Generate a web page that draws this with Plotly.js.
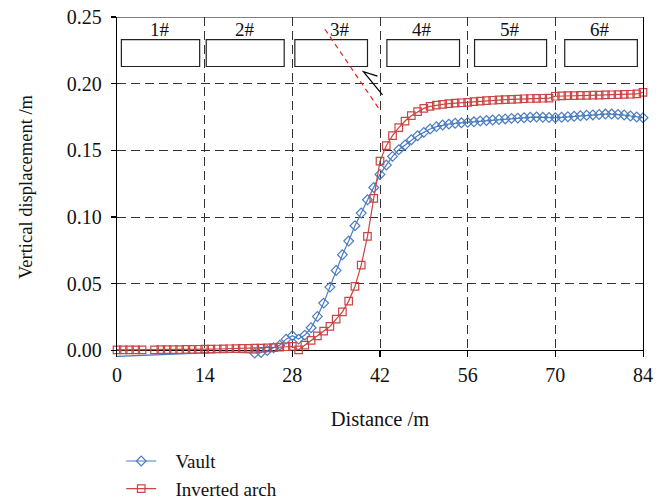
<!DOCTYPE html>
<html>
<head>
<meta charset="utf-8">
<script src="https://cdn.plot.ly/plotly-3.0.1.min.js"></script>
<style>html,body{margin:0;padding:0;background:#fff;}#chart{width:668px;height:503px;}</style>
</head>
<body>
<div id="chart"></div>
<script>
// Distance (m) and vertical displacement (m)
const vaultX = [0,1,2,3,4,5,6,7,8,9,10,11,12,13,14,15,16,17,18,19,20,21,22,23,24,25,26,27,28,29,30,31,32,33,34,35,36,37,38,39,40,41,42,43,44,45,46,47,48,49,50,51,52,53,54,55,56,57,58,59,60,61,62,63,64,65,66,67,68,69,70,71,72,73,74,75,76,77,78,79,80,81,82,83,84];
const vaultY = [-0.0045,-0.0043,-0.004,-0.0037,-0.0035,-0.0032,-0.003,-0.0028,-0.0026,-0.0024,-0.0022,-0.002,-0.0018,-0.0016,-0.0014,-0.0013,-0.0012,-0.0012,-0.0012,-0.0013,-0.0015,-0.0018,-0.002,-0.0015,0.0,0.002,0.004,0.0085,0.011,0.0085,0.0115,0.017,0.0255,0.0355,0.0475,0.060,0.0718,0.082,0.0935,0.103,0.113,0.1222,0.132,0.139,0.1455,0.1505,0.154,0.158,0.161,0.1635,0.166,0.1678,0.169,0.1697,0.1703,0.1707,0.171,0.1714,0.172,0.1724,0.1728,0.1732,0.1736,0.174,0.1742,0.1745,0.1748,0.175,0.1748,0.1746,0.1745,0.1748,0.1752,0.1756,0.176,0.1763,0.1766,0.1769,0.1772,0.1772,0.177,0.1765,0.1758,0.175,0.1745];

const archX = [0,1,2,3,4,6,7,8,9,10,11,12,13,14,15,16,17,18,19,20,21,22,23,24,25,26,27,28,29,30,31,32,33,34,35,36,37,38,39,40,41,42,43,44,45,46,47,48,49,50,51,52,53,54,55,56,57,58,59,60,61,62,63,64,65,66,67,68,69,70,71,72,73,74,75,76,77,78,79,80,81,82,83,84];
const archY = [0.0005,0.0005,0.0005,0.0005,0.0005,0.0005,0.0006,0.0006,0.0007,0.0007,0.0008,0.0008,0.0009,0.001,0.001,0.0011,0.0012,0.0013,0.0014,0.0015,0.0016,0.0017,0.0018,0.002,0.0022,0.0025,0.0028,0.003,0.0005,0.004,0.0075,0.011,0.0145,0.018,0.0235,0.029,0.037,0.048,0.064,0.0855,0.114,0.142,0.1535,0.161,0.167,0.172,0.176,0.179,0.1815,0.183,0.184,0.1845,0.185,0.1854,0.1857,0.186,0.1866,0.187,0.1873,0.1876,0.1879,0.1881,0.1883,0.1885,0.1887,0.1889,0.189,0.1891,0.1892,0.1906,0.1908,0.191,0.1911,0.1912,0.1913,0.1914,0.1915,0.1916,0.1917,0.1918,0.192,0.1921,0.1923,0.1935];

const xTicks = [0,14,28,42,56,70,84];
const yTicks = [0,0.05,0.10,0.15,0.20,0.25];
const yTickText = ['0.00','0.05','0.10','0.15','0.20','0.25'];

// Segment labels and boxes (x extents in m, y extents in m)
const segLabels = ['1#','2#','3#','4#','5#','6#'];
const segLabelX = [6.8,20.5,35.6,48.7,62.7,77.2];
const boxX0 = [0.7,14.25,28.4,43.1,57.1,71.5];
const boxX1 = [13.2,26.7,40.0,54.7,68.6,83.1];
const boxY0 = 0.2129, boxY1 = 0.2330, labelY = 0.2410;

const FONT = 'Liberation Serif, Times New Roman, serif';
const BLUE = '#4a7cc0';
const RED = '#cc4444';
const GRID = '#333333';
const PAD = '\u00a0\u00a0\u00a0';

const startIdx = vaultX.indexOf(22);
const traces = [
  {x: vaultX.slice(0, startIdx+1), y: vaultY.slice(0, startIdx+1), mode: 'lines', line: {color: BLUE, width: 1.2}, showlegend: false, hoverinfo: 'skip'},
  {x: vaultX.slice(startIdx), y: vaultY.slice(startIdx), name: PAD + 'Vault', mode: 'lines+markers',
   line: {color: BLUE, width: 1.2}, marker: {symbol: 'diamond-open', size: 7.5, color: BLUE, line: {width: 1.2, color: BLUE}}, cliponaxis: false},
  {x: archX, y: archY, name: PAD + 'Inverted arch', mode: 'lines+markers',
   line: {color: RED, width: 1.2}, marker: {symbol: 'square-open', size: 7.5, color: RED, line: {width: 1.2, color: RED}}, cliponaxis: false}
];

const shapes = [];
for (let i = 0; i < boxX0.length; i++) {
  shapes.push({type: 'rect', xref: 'x', yref: 'y', x0: boxX0[i], x1: boxX1[i], y0: boxY0, y1: boxY1, line: {color: '#222', width: 1.2}, fillcolor: 'rgba(0,0,0,0)'});
}
shapes.push({type: 'line', xref: 'paper', yref: 'y', x0: 0, x1: 1, y0: 0.25, y1: 0.25, line: {color: '#000', width: 1.2}});
shapes.push({type: 'line', xref: 'x', yref: 'y', x0: 33.2, y0: 0.2408, x1: 42.1, y1: 0.1794, line: {color: '#e8231e', width: 1.2, dash: '5px,4px'}});
shapes.push({type: 'path', xref: 'x', yref: 'y', path: 'M 41.6 0.2057 L 39.35 0.2090 L 42.4 0.1917', line: {color: '#000', width: 1.2}});

const annotations = segLabels.map((t, i) => ({x: segLabelX[i], y: labelY, xref: 'x', yref: 'y', text: t, showarrow: false, font: {family: FONT, size: 19, color: '#111'}}));

const layout = {
  width: 668, height: 503,
  margin: {l: 116.5, r: 25, t: 17, b: 146, pad: 0},
  paper_bgcolor: '#fff', plot_bgcolor: '#fff',
  font: {family: FONT, size: 18, color: '#111'},
  showlegend: true,
  legend: {xref: 'paper', yref: 'container', x: 0.008, y: 0.121, xanchor: 'left', yanchor: 'top',
    font: {family: FONT, size: 19, color: '#111'}, bgcolor: 'rgba(0,0,0,0)'},
  xaxis: {range: [0, 84], tickvals: xTicks, ticktext: xTicks.map(String), ticks: 'inside', ticklen: 7, tickcolor: '#000', tickwidth: 1.2,
    showline: false, zeroline: false, showgrid: true, gridcolor: GRID, gridwidth: 1, griddash: '9px,5px',
    ticklabelstandoff: 4, tickfont: {family: FONT, size: 20, color: '#111'},
    title: {text: 'Distance /m', font: {family: FONT, size: 20.5, color: '#111'}, standoff: 26}},
  yaxis: {range: [-0.0049, 0.25], tickvals: yTicks, ticktext: yTickText, ticks: 'outside', ticklen: 5, tickcolor: '#000', tickwidth: 1.2,
    showline: true, mirror: true, linecolor: '#000', linewidth: 1.2,
    zeroline: true, zerolinecolor: '#000', zerolinewidth: 1.2,
    showgrid: true, gridcolor: GRID, gridwidth: 1, griddash: '9px,5px',
    ticklabelstandoff: 5, tickfont: {family: FONT, size: 20, color: '#111'},
    title: {text: 'Vertical displacement /m', font: {family: FONT, size: 18.5, color: '#111'}, standoff: 29}},
  shapes: shapes,
  annotations: annotations
};

Plotly.newPlot('chart', traces, layout, {displayModeBar: false, staticPlot: true});
</script>
</body>
</html>
